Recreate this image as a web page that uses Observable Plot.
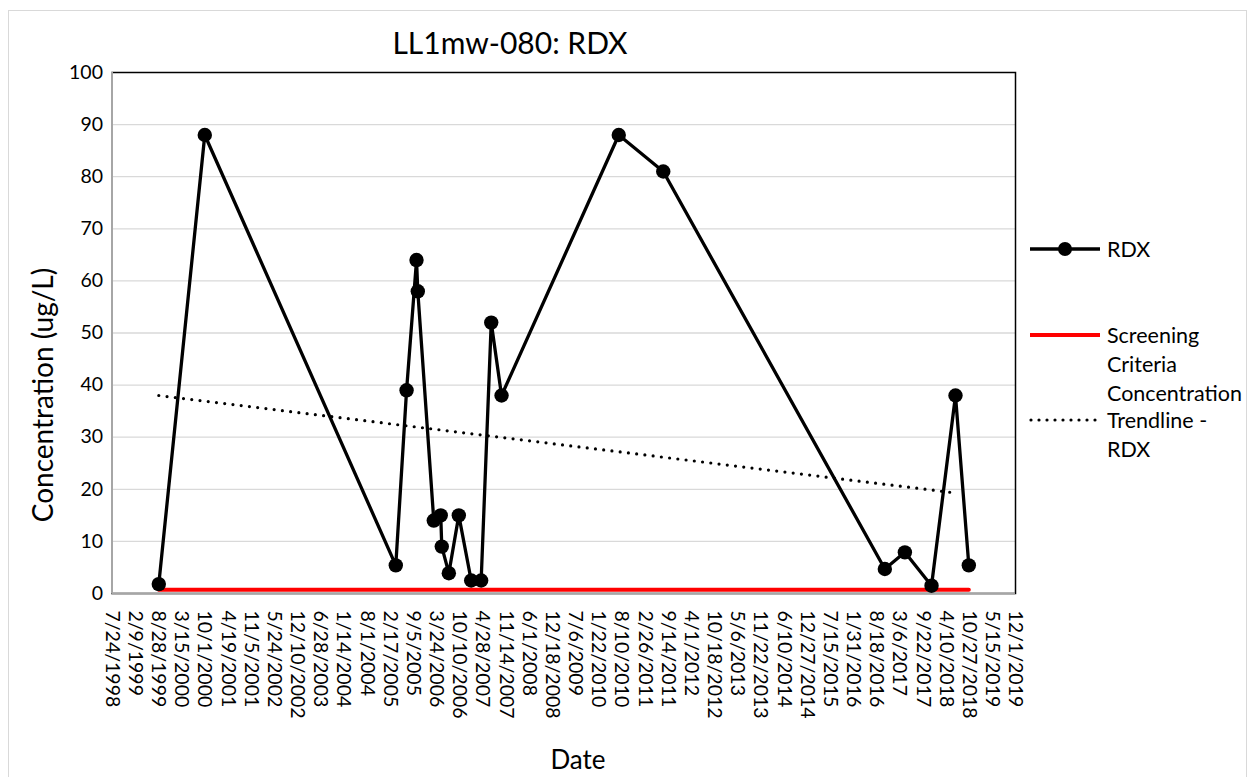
<!DOCTYPE html>
<html>
<head>
<meta charset="utf-8">
<script src="https://cdn.jsdelivr.net/npm/d3@7"></script>
<script src="https://cdn.jsdelivr.net/npm/@observablehq/plot@0.6"></script>
<style>
  body { margin: 0; background: #fff; font-family: Lato, "Open Sans", sans-serif; color: #000; }
  #wrap { position: relative; width: 1255px; height: 777px; overflow: hidden; background: #fff; }
  #wrap svg.plot { position: absolute; left: 0; top: 0; }
  .border { position: absolute; left: 8px; top: 10px; width: 1239px; height: 800px;
            border: 1.5px solid #d9d9d9; box-sizing: border-box; }
  .txt { position: absolute; white-space: nowrap; line-height: 1; }
  #title { font-size: 30px; left: 510px; top: 27px; transform: translateX(-50%); }
  #ytitle { font-size: 28px; left: 42px; top: 395px; transform: translate(-50%, -50%) rotate(-90deg); }
  #xtitle { font-size: 26px; left: 578px; top: 746px; transform: translateX(-50%); }
  .leg { position: absolute; font-size: 21.5px; line-height: 29px; white-space: nowrap; }
  .sw { position: absolute; }
</style>
</head>
<body>
<div id="wrap">
  <div class="border"></div>
</div>
<script>
// ---- data ----
const sampleDates = [
  "9/1/1999", "10/2/2000", "4/8/2005", "7/10/2005", "10/4/2005", "10/15/2005",
  "3/2/2006", "5/1/2006", "5/10/2006", "7/10/2006", "10/4/2006", "1/19/2007",
  "4/15/2007", "7/11/2007", "10/8/2007", "7/16/2010", "8/4/2011", "10/29/2016",
  "4/20/2017", "12/6/2017", "7/1/2018", "10/24/2018"
];
const rdxValues = [
  1.8, 88, 5.4, 39, 64, 58,
  14, 15, 9, 3.9, 15, 2.5,
  2.5, 52, 38, 88, 81, 4.7,
  7.9, 1.5, 38, 5.4
];
const screeningValue = 0.7;
const screeningDates = ["9/1/1999", "10/24/2018"];
const trendDates = ["9/1/1999", "7/1/2018"];
const trendValues = [38, 19.3];
const xTickLabels = [
  "7/24/1998", "2/9/1999", "8/28/1999", "3/15/2000", "10/1/2000", "4/19/2001",
  "11/5/2001", "5/24/2002", "12/10/2002", "6/28/2003", "1/14/2004", "8/1/2004",
  "2/17/2005", "9/5/2005", "3/24/2006", "10/10/2006", "4/28/2007", "11/14/2007",
  "6/1/2008", "12/18/2008", "7/6/2009", "1/22/2010", "8/10/2010", "2/26/2011",
  "9/14/2011", "4/1/2012", "10/18/2012", "5/6/2013", "11/22/2013", "6/10/2014",
  "12/27/2014", "7/15/2015", "1/31/2016", "8/18/2016", "3/6/2017", "9/22/2017",
  "4/10/2018", "10/27/2018", "5/15/2019", "12/1/2019"
];
const yTicks = [0, 10, 20, 30, 40, 50, 60, 70, 80, 90, 100];
const gridTicks = [10, 20, 30, 40, 50, 60, 70, 80, 90];

// ---- build ----
const parse = s => { const [m, d, y] = s.split("/").map(Number); return new Date(Date.UTC(y, m - 1, d)); };
const fmt = d => `${d.getUTCMonth() + 1}/${d.getUTCDate()}/${d.getUTCFullYear()}`;
const xTicks = xTickLabels.map(parse);
const rdx = sampleDates.map((s, i) => ({date: parse(s), value: rdxValues[i]}));
const screening = screeningDates.map(s => ({date: parse(s), value: screeningValue}));
const trend = trendDates.map((s, i) => ({date: parse(s), value: trendValues[i]}));
const xDomain = [xTicks[0], xTicks[xTicks.length - 1]];

const chart = Plot.plot({
  width: 1255,
  height: 777,
  marginLeft: 111.5,
  marginRight: 240,
  marginTop: 72,
  marginBottom: 184,
  style: {fontFamily: "Lato, 'Open Sans', sans-serif", fontSize: "19.5px", color: "#000", background: "transparent", overflow: "visible"},
  x: {type: "utc", domain: xDomain},
  y: {domain: [0, 100]},
  marks: [
    Plot.gridY(gridTicks, {stroke: "#d9d9d9", strokeOpacity: 1, strokeWidth: 1.3}),
    Plot.frame({stroke: "#000", strokeWidth: 1.5}),
    Plot.ruleY([yTicks[0]], {stroke: "#a6a6a6", strokeWidth: 2}),
    Plot.ruleX([xDomain[0]], {stroke: "#a6a6a6", strokeWidth: 2}),
    Plot.axisY(yTicks, {tickSize: 0, tickPadding: 9, fontSize: 19.5, label: null}),
    Plot.axisX(xTicks, {tickSize: 0, tickPadding: 17, tickRotate: 90, tickFormat: fmt, fontSize: 19.5, label: null}),
    Plot.line(trend, {x: "date", y: "value", stroke: "#000", strokeWidth: 3.2, strokeDasharray: "0 8.3", strokeLinecap: "round"}),
    Plot.line(screening, {x: "date", y: "value", stroke: "#ff0000", strokeWidth: 4}),
    Plot.line(rdx, {x: "date", y: "value", stroke: "#000", strokeWidth: 3.3}),
    Plot.dot(rdx, {x: "date", y: "value", r: 7.2, fill: "#000", stroke: "none"})
  ]
});
chart.classList.add("plot");
const wrap = document.getElementById("wrap");
wrap.appendChild(chart);

// ---- titles & legend (HTML) ----
function addText(id, cls, html) {
  const d = document.createElement("div");
  if (id) d.id = id;
  d.className = cls;
  d.innerHTML = html;
  wrap.appendChild(d);
  return d;
}
addText("title", "txt", "LL1mw-080: RDX");
addText("ytitle", "txt", "Concentration (ug/L)");
addText("xtitle", "txt", "Date");

const legendItems = [
  {label: "RDX", lines: ["RDX"], y: 249, stroke: "#000", width: 3.3, dash: null, marker: true},
  {label: "Screening Criteria Concentration", lines: ["Screening", "Criteria", "Concentration"], y: 335, stroke: "#ff0000", width: 4, dash: null, marker: false},
  {label: "Trendline - RDX", lines: ["Trendline -", "RDX"], y: 420, stroke: "#000", width: 3.2, dash: "0 8", marker: false}
];
const ns = "http://www.w3.org/2000/svg";
legendItems.forEach(item => {
  const s = document.createElementNS(ns, "svg");
  s.setAttribute("class", "sw");
  s.setAttribute("width", 80);
  s.setAttribute("height", 20);
  s.style.left = "1028px";
  s.style.top = (item.y - 10) + "px";
  const l = document.createElementNS(ns, "line");
  l.setAttribute("x1", item.dash ? 3 : 2);
  l.setAttribute("x2", 72);
  l.setAttribute("y1", 10);
  l.setAttribute("y2", 10);
  l.setAttribute("stroke", item.stroke);
  l.setAttribute("stroke-width", item.width);
  if (item.dash) { l.setAttribute("stroke-dasharray", item.dash); l.setAttribute("stroke-linecap", "round"); }
  s.appendChild(l);
  if (item.marker) {
    const c = document.createElementNS(ns, "circle");
    c.setAttribute("cx", 37); c.setAttribute("cy", 10); c.setAttribute("r", 7);
    c.setAttribute("fill", "#000");
    s.appendChild(c);
  }
  wrap.appendChild(s);
  const t = document.createElement("div");
  t.className = "leg";
  t.style.left = "1107px";
  t.style.top = (item.y - 14.5) + "px";
  t.innerHTML = item.lines.join("<br>");
  wrap.appendChild(t);
});
</script>
</body>
</html>
